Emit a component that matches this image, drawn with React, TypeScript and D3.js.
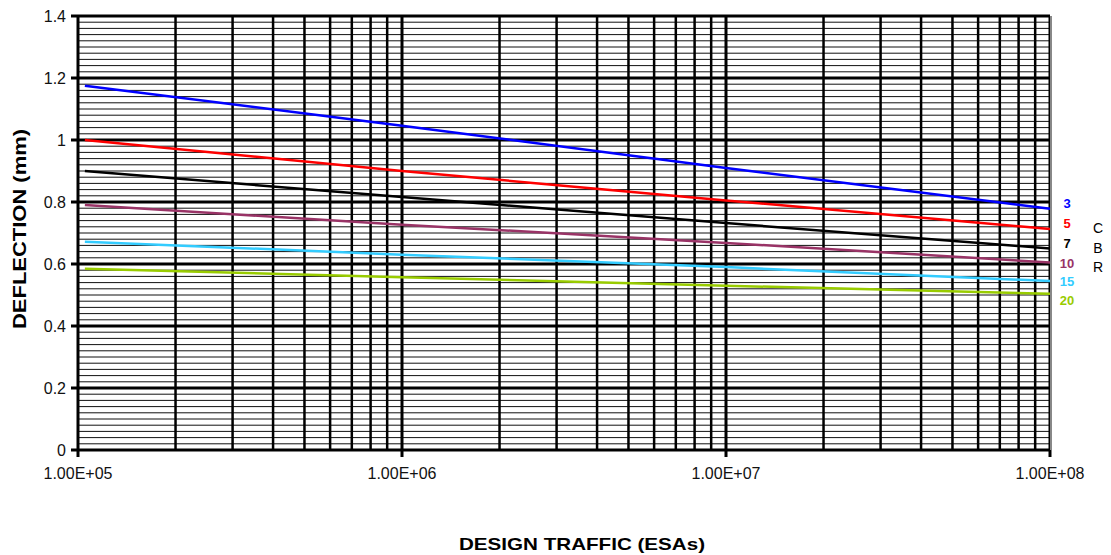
import React from "react";
import * as d3 from "d3";

const traffic = [1.05e5, 1e6, 1e7, 1e8];
const cbrLabels = ["3", "5", "7", "10", "15", "20"];
const colors = ["#0000FF", "#FF0000", "#000000", "#993366", "#33CCFF", "#99CC00"];
const cbr3 = [1.175, 1.046, 0.91, 0.778];
const cbr5 = [1.0, 0.9, 0.805, 0.713];
const cbr7 = [0.9, 0.816, 0.732, 0.65];
const cbr10 = [0.79, 0.727, 0.668, 0.605];
const cbr15 = [0.672, 0.63, 0.59, 0.545];
const cbr20 = [0.585, 0.557, 0.53, 0.504];
const series = [cbr3, cbr5, cbr7, cbr10, cbr15, cbr20];
const labelYValues = [0.794, 0.732, 0.665, 0.603, 0.545, 0.481];
const cbrLetterValues = [0.715, 0.65, 0.589];
const xTicks = [1e5, 1e6, 1e7, 1e8];
const yTicks = [0, 0.2, 0.4, 0.6, 0.8, 1, 1.2, 1.4];

const W = 1111, H = 555;
const L = 78, R = 1050, T = 16, B = 450;
const font = "'Liberation Sans', Arial, sans-serif";

export default function App() {
  const x = d3.scaleLog().domain([1e5, 1e8]).range([L, R]);
  const y = d3.scaleLinear().domain([0, 1.4]).range([B, T]);
  const minorY = d3.range(0, 71).map((i) => i * 0.02);
  const minorX: number[] = [];
  for (let e = 5; e < 8; e++) for (let m = 2; m <= 9; m++) minorX.push(m * Math.pow(10, e));
  const line = d3
    .line<[number, number]>()
    .x((d) => x(d[0]))
    .y((d) => y(d[1]));
  return (
    <svg width={W} height={H} style={{ position: "absolute", left: 0, top: 0 }}>
      <rect width={W} height={H} fill="#fff" />
      {minorY.map((v, i) => (
        <line key={"my" + i} x1={L} x2={R} y1={y(v)} y2={y(v)} stroke="#111" strokeWidth={1} />
      ))}
      {yTicks.map((v, i) => (
        <line key={"My" + i} x1={L - 7} x2={R} y1={y(v)} y2={y(v)} stroke="#000" strokeWidth={3} />
      ))}
      {minorX.map((v, i) => (
        <line key={"mx" + i} x1={x(v)} x2={x(v)} y1={T} y2={B} stroke="#000" strokeWidth={2.5} />
      ))}
      {xTicks.map((v, i) => (
        <line key={"Mx" + i} x1={x(v)} x2={x(v)} y1={T} y2={B + 7} stroke="#000" strokeWidth={3} />
      ))}
      <line x1={R + 1} x2={R + 1} y1={T} y2={B} stroke="#888" strokeWidth={2} />
      {series.map((s, i) => (
        <path
          key={"s" + i}
          d={line(s.map((v, j) => [traffic[j], v] as [number, number])) || ""}
          fill="none"
          stroke={colors[i]}
          strokeWidth={2.5}
        />
      ))}
      {yTicks.map((v, i) => (
        <text key={"yl" + i} x={66} y={y(v)} dy="0.35em" textAnchor="end" fontFamily={font} fontSize={16} fill="#111">
          {v === 0 ? "0" : String(v)}
        </text>
      ))}
      {xTicks.map((v, i) => (
        <text key={"xl" + i} x={x(v)} y={479} textAnchor="middle" fontFamily={font} fontSize={16} fill="#111">
          {d3.format(".2e")(v).toUpperCase().replace("E+", "E+0")}
        </text>
      ))}
      {cbrLabels.map((l, i) => (
        <text
          key={"cl" + i}
          x={1067}
          y={y(labelYValues[i])}
          dy="0.35em"
          textAnchor="middle"
          fontFamily={font}
          fontSize={13}
          fontWeight="bold"
          fill={colors[i]}
        >
          {l}
        </text>
      ))}
      {["C", "B", "R"].map((l, i) => (
        <text key={"cbr" + i} x={1098} y={y(cbrLetterValues[i])} dy="0.35em" textAnchor="middle" fontFamily={font} fontSize={14} fill="#000">
          {l}
        </text>
      ))}
      <text
        transform={`translate(26, 229) rotate(-90)`}
        textAnchor="middle"
        fontFamily={font}
        fontSize={18}
        fontWeight="bold"
        fill="#000"
        textLength={200}
        lengthAdjust="spacingAndGlyphs"
      >
        DEFLECTION (mm)
      </text>
      <text
        x={582}
        y={550}
        textAnchor="middle"
        fontFamily={font}
        fontSize={17}
        fontWeight="bold"
        fill="#000"
        textLength={246}
        lengthAdjust="spacingAndGlyphs"
      >
        DESIGN TRAFFIC (ESAs)
      </text>
    </svg>
  );
}
